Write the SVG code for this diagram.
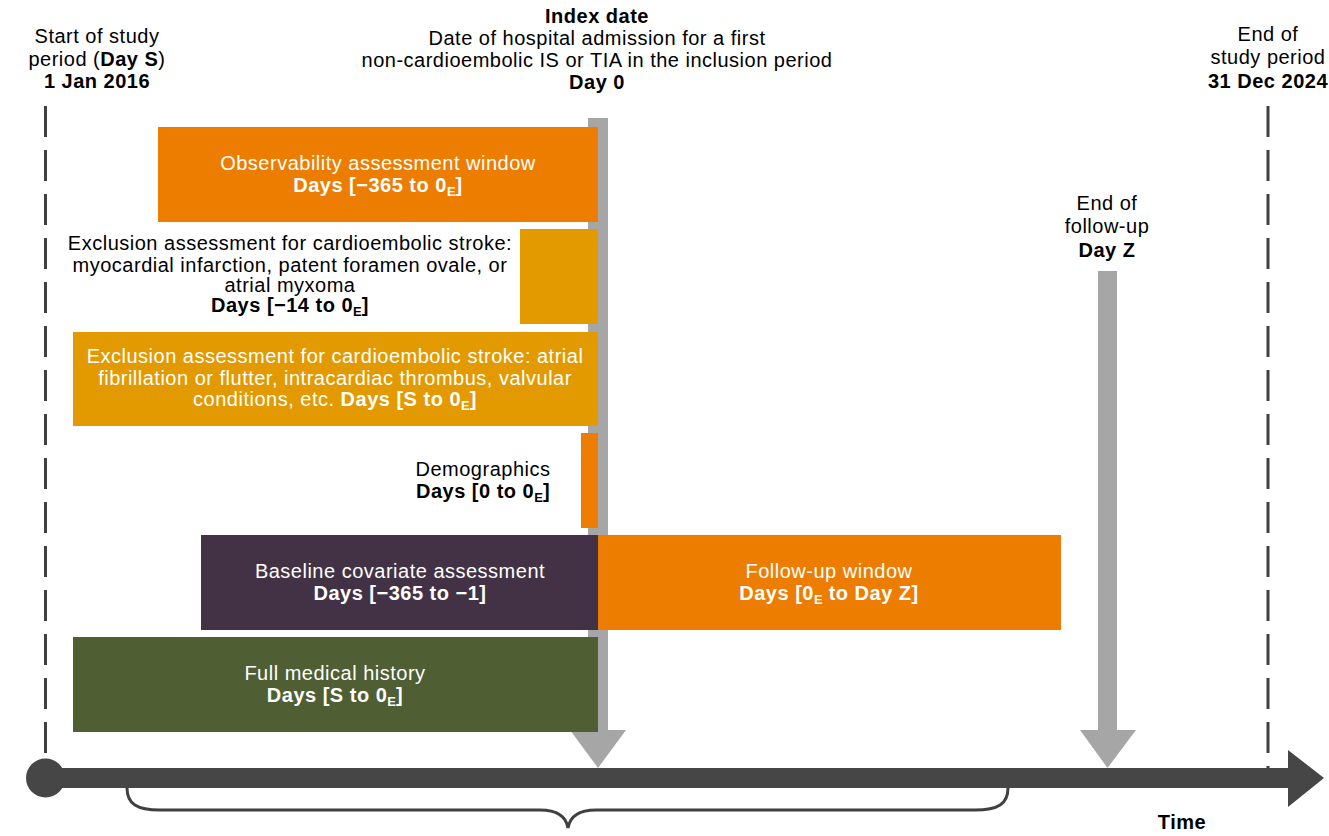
<svg xmlns="http://www.w3.org/2000/svg" width="1329" height="836" viewBox="0 0 1329 836">
<style>
text{font-family:"Liberation Sans",Arial,sans-serif;font-size:20px;text-anchor:middle;fill:#000;letter-spacing:0.5px}
.w{fill:#fff}
.b{font-weight:bold}
.sub{font-size:13px;letter-spacing:0}
.dash{stroke:#404040;stroke-width:3;stroke-dasharray:31 13;fill:none}
.gray{fill:#A6A6A6}
</style>
<rect width="1329" height="836" fill="#fff"/>
<g id="connectors">
  <line class="dash" x1="45.5" y1="106" x2="45.5" y2="756"/>
  <line class="dash" x1="1268" y1="106" x2="1268" y2="770"/>
  <g id="day0-arrow">
    <rect class="gray" x="588" y="118" width="20" height="612"/>
    <polygon class="gray" points="570,730 626,730 598,768"/>
  </g>
  <g id="dayz-arrow">
    <rect class="gray" x="1098" y="271" width="19" height="459"/>
    <polygon class="gray" points="1080,730 1136,730 1107.5,768"/>
  </g>
  <g id="timeline" fill="#464646">
    <rect x="45" y="768" width="1245" height="20"/>
    <circle cx="45.5" cy="778" r="19.5"/>
    <polygon points="1288,750 1324,778 1288,807"/>
  </g>
  <path d="M127,788 C127,804 137,810 160,810 L540,810 C556,810 566,816 568,828 C570,816 580,810 596,810 L975,810 C998,810 1008,804 1008,788" fill="none" stroke="#404040" stroke-width="3"/>
</g>
<g id="start-label">
  <text x="97" y="43">Start of study</text>
  <text x="97" y="66">period (<tspan class="b">Day S</tspan>)</text>
  <text x="97" y="88" class="b">1 Jan 2016</text>
</g>
<g id="index-label">
  <text x="597" y="23" class="b">Index date</text>
  <text x="597" y="45">Date of hospital admission for a first</text>
  <text x="597" y="67">non-cardioembolic IS or TIA in the inclusion period</text>
  <text x="597" y="89" class="b">Day 0</text>
</g>
<g id="end-label">
  <text x="1268" y="41">End of</text>
  <text x="1268" y="64">study period</text>
  <text x="1268" y="88" class="b">31 Dec 2024</text>
</g>
<g id="followup-end-label">
  <text x="1107" y="210">End of</text>
  <text x="1107" y="233">follow-up</text>
  <text x="1107" y="257" class="b">Day Z</text>
</g>
<g id="observability">
  <rect x="158" y="127" width="440" height="95" fill="#ED7D00"/>
  <text x="378" y="170" class="w">Observability assessment window</text>
  <text x="378" y="192" class="w b">Days [−365 to 0<tspan class="sub" dy="4">E</tspan><tspan dy="-4">]</tspan></text>
</g>
<g id="exclusion-14">
  <rect x="520" y="229" width="78" height="95" fill="#E29A00"/>
  <text x="290" y="250">Exclusion assessment for cardioembolic stroke:</text>
  <text x="290" y="272">myocardial infarction, patent foramen ovale, or</text>
  <text x="290" y="292">atrial myxoma</text>
  <text x="290" y="312" class="b">Days [−14 to 0<tspan class="sub" dy="4">E</tspan><tspan dy="-4">]</tspan></text>
</g>
<g id="exclusion-s">
  <rect x="73" y="332" width="525" height="94" fill="#E29A00"/>
  <text x="335" y="363" class="w">Exclusion assessment for cardioembolic stroke: atrial</text>
  <text x="335" y="385" class="w">fibrillation or flutter, intracardiac thrombus, valvular</text>
  <text x="335" y="406" class="w">conditions, etc. <tspan class="b">Days [S to 0<tspan class="sub" dy="4">E</tspan><tspan dy="-4">]</tspan></tspan></text>
</g>
<g id="demographics">
  <rect x="581" y="433" width="17" height="95" fill="#ED7D00"/>
  <text x="483" y="476">Demographics</text>
  <text x="483" y="498" class="b">Days [0 to 0<tspan class="sub" dy="4">E</tspan><tspan dy="-4">]</tspan></text>
</g>
<g id="baseline">
  <rect x="201" y="535" width="397" height="95" fill="#433245"/>
  <text x="400" y="578" class="w">Baseline covariate assessment</text>
  <text x="400" y="600" class="w b">Days [−365 to −1]</text>
</g>
<g id="followup">
  <rect x="598" y="535" width="463" height="95" fill="#ED7D00"/>
  <text x="829" y="578" class="w">Follow-up window</text>
  <text x="829" y="600" class="w b">Days [0<tspan class="sub" dy="4">E</tspan><tspan dy="-4"> to Day Z]</tspan></text>
</g>
<g id="history">
  <rect x="73" y="637" width="525" height="95" fill="#4F5E33"/>
  <text x="335" y="680" class="w">Full medical history</text>
  <text x="335" y="702" class="w b">Days [S to 0<tspan class="sub" dy="4">E</tspan><tspan dy="-4">]</tspan></text>
</g>
<g id="time-label">
  <text x="1182" y="829" class="b">Time</text>
</g>
</svg>
